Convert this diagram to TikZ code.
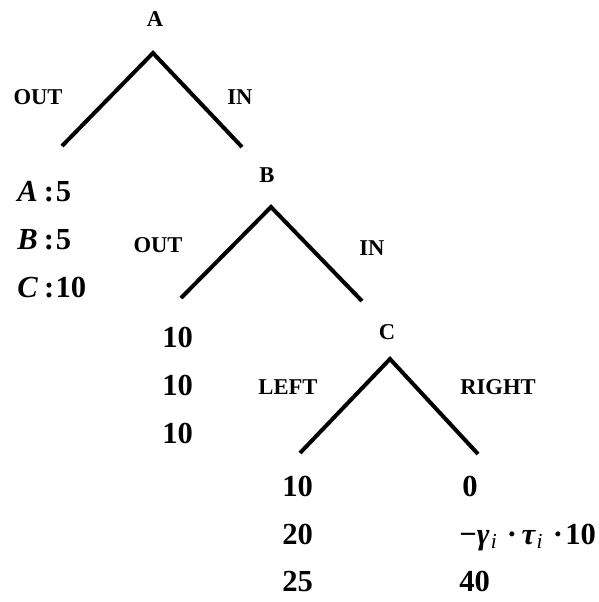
\documentclass[tikz,border=0pt]{standalone}
\usepackage{fontspec}
\setmainfont{Liberation Serif}
\usetikzlibrary{positioning}

\tikzset{
  branch/.style={line width=2pt},
  lbl/.style={inner sep=0pt,font=\fontsize{11.3}{13}\selectfont\bfseries},
  pay/.style={inner sep=0pt,anchor=base west,font=\fontsize{15.3}{18}\selectfont\bfseries}
}
\newcommand{\bi}[1]{\textit{#1}}
\newcommand{\sub}{\textsubscript{\itshape\mdseries i}}

\begin{document}
\begin{tikzpicture}[x=0.5pt,y=-0.5pt]
\useasboundingbox (0,0) rectangle (599,602);
\coordinate (Aroot) at (153,53); \coordinate (Aout) at (62,146); \coordinate (Ain) at (242,147);
\coordinate (Broot) at (271,207); \coordinate (Bout) at (181,298); \coordinate (Bin) at (362,301);
\coordinate (Croot) at (390,359); \coordinate (Cleft) at (300,453); \coordinate (Cright) at (478,454);
\draw[branch] (Aout)--(Aroot)--(Ain);
\draw[branch] (Bout)--(Broot)--(Bin);
\draw[branch] (Cleft)--(Croot)--(Cright);
\node[lbl] (A) at (155,19) {A};
\node[lbl] (B) at (267,175) {B};
\node[lbl] (C) at (387,332) {C};
\node[lbl] (outA) at (38,97) {OUT};
\node[lbl] (inA) at (240,97) {IN};
\node[lbl] (outB) at (158,245) {OUT};
\node[lbl] (inB) at (372,248) {IN};
\node[lbl] (leftC) at (288,387) {LEFT};
\node[lbl] (rightC) at (498,387) {RIGHT};
% payoffs
\node[pay] (p1) at (17,201) {\bi{A}\hspace{0.2em}:\hspace{0.06em}5};
\node[pay] (p2) at (17,249) {\bi{B}\hspace{0.2em}:\hspace{0.06em}5};
\node[pay] (p3) at (17,297) {\bi{C}\hspace{0.2em}:\hspace{0.04em}10};
\node[pay] (q1) at (162,347) {10};
\node[pay] (q2) at (162,395) {10};
\node[pay] (q3) at (162,443) {10};
\node[pay] (r1) at (282,496) {10};
\node[pay] (r2) at (282,544) {20};
\node[pay] (r3) at (282,591) {25};
\node[pay] (s1) at (462,496) {0};
\node[pay] (s2) at (459,544) {−\bi{γ}\hspace{0.04em}\sub\hspace{0.3em}·\hspace{0.15em}\bi{τ}\hspace{0.02em}\sub\hspace{0.3em}·\hspace{0.08em}10};
\node[pay] (s3) at (459,591) {40};
\end{tikzpicture}
\end{document}
